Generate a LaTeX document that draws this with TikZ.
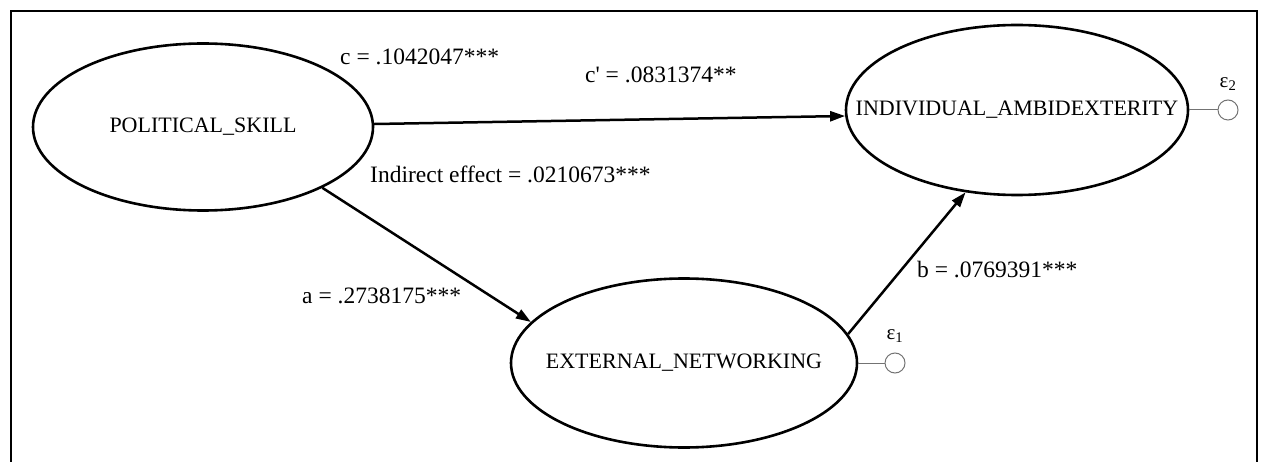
\documentclass[tikz,border=0pt]{standalone}
\usepackage{fontspec}
\setmainfont{Liberation Serif}
\usetikzlibrary{arrows.meta,shapes.geometric}
\begin{document}
\begin{tikzpicture}[x=1pt,y=-1pt,
  latent/.style={ellipse,draw,line width=2.6pt,inner sep=0pt,font=\fontsize{22}{24}\selectfont},
  path/.style={line width=2.5pt,-{Triangle[length=15pt,width=10pt]}},
  lbl/.style={anchor=base west,inner sep=0pt,font=\fontsize{23.5}{26}\selectfont},
  errc/.style={circle,draw=black!55,line width=1pt,minimum size=20pt,inner sep=0pt},
  errl/.style={draw=black!55,line width=1pt},
  elab/.style={inner sep=0pt,font=\fontsize{21}{22}\selectfont}]
\useasboundingbox (0,0) rectangle (1263,462);
\draw[line width=2pt] (11,462) coordinate (fbl) -- (11,11) coordinate (ftl) -- (1257,11) coordinate (ftr) -- (1257,462) coordinate (fbr);
\node[latent,minimum width=340pt,minimum height=167pt] (PS) at (203,127) {\makebox[0pt]{POLITICAL\_SKILL}};
\node[latent,minimum width=342pt,minimum height=170pt] (IA) at (1017,110) {\makebox[0pt]{INDIVIDUAL\_AMBIDEXTERITY}};
\node[latent,minimum width=346pt,minimum height=169pt] (EN) at (684,363) {\makebox[0pt]{EXTERNAL\_NETWORKING}};
\draw[path] (PS.1) -- (IA.182);
\draw[path] (PS.333) -- (EN.165);
\draw[path] (EN.10) -- (IA.238);
\node[errc] (e2) at (1228,110) {};
\node[errc] (e1) at (895,363) {};
\draw[errl] (IA.east) -- (e2.west);
\draw[errl] (EN.east) -- (e1.west);
\node[elab] (l2) at (1228,84) {ε\textsubscript{2}};
\node[elab] (l1) at (895,336) {ε\textsubscript{1}};
\node[lbl] (lc) at (340,65) {c = .1042047***};
\node[lbl] (lcp) at (585,83) {c\textquotesingle{} = .0831374**};
\node[lbl] (lind) at (370,183) {Indirect effect = .0210673***};
\node[lbl] (la) at (302,303) {a = .2738175***};
\node[lbl] (lb) at (917,277) {b = .0769391***};
\end{tikzpicture}
\end{document}
